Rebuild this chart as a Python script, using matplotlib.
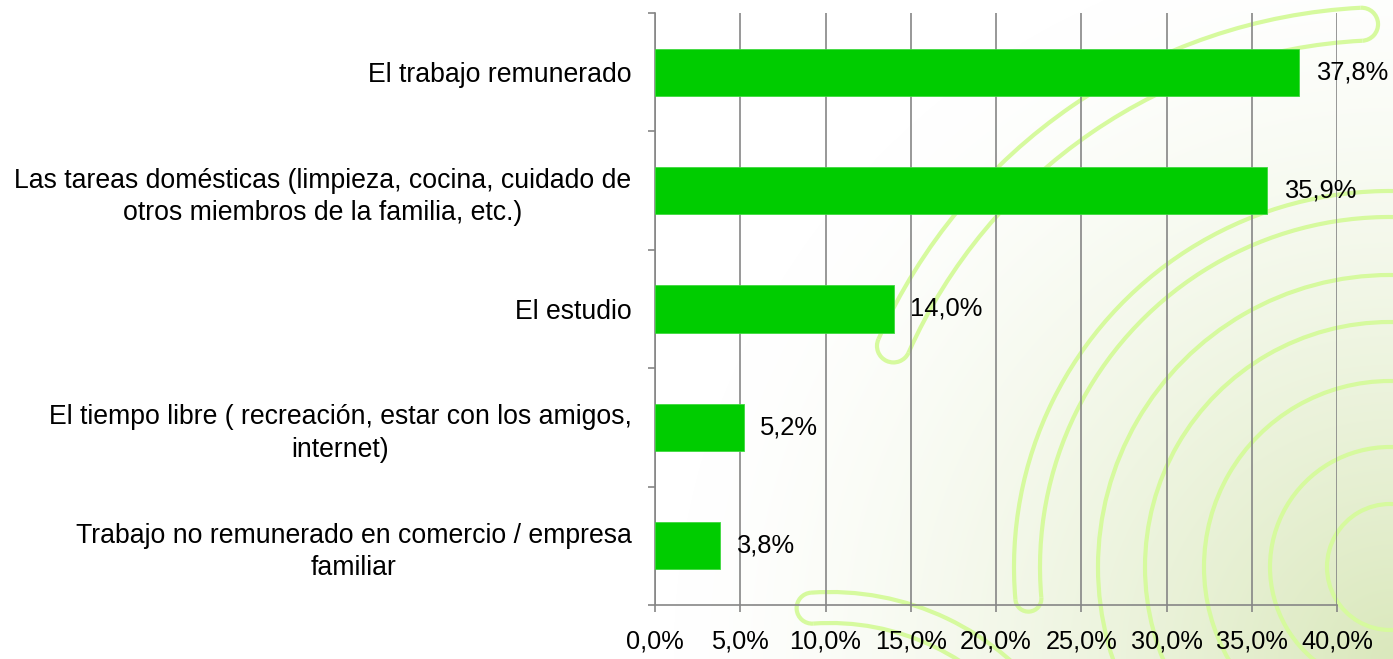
import numpy as np
import matplotlib
matplotlib.use('Agg')
import matplotlib.pyplot as plt
from matplotlib.patches import Arc

categories = ['El trabajo remunerado',
              'Las tareas domésticas (limpieza, cocina, cuidado de\notros miembros de la familia, etc.)',
              'El estudio',
              'El tiempo libre ( recreación, estar con los amigos,\ninternet)',
              'Trabajo no remunerado en comercio / empresa\nfamiliar']
values = [37.8, 35.9, 14.0, 5.2, 3.8]
x_ticks = [0, 5, 10, 15, 20, 25, 30, 35, 40]

W, H = 1393, 659
plt.rcParams['font.family'] = ['Liberation Sans', 'DejaVu Sans']
fig = plt.figure(figsize=(W / 100, H / 100), dpi=100)

# background: soft green gradient and decorative arcs (pixel coords, y up)
bg = fig.add_axes([0, 0, 1, 1], zorder=-5)
bg.set_xlim(0, W)
bg.set_ylim(0, H)
bg.axis('off')
yy, xx = np.mgrid[0:H, 0:W]
d = np.sqrt((xx - W) ** 2 + (yy - H) ** 2) / 720.0
t = np.clip(1 - d, 0, 1) ** 1.4
c0 = np.array([1.0, 1.0, 1.0])
c1 = np.array([218, 232, 188]) / 255.0
img = c0 + (c1 - c0) * t[..., None]
bg.imshow(img, extent=[0, W, 0, H], origin='upper', aspect='auto')

arc_col = '#d6fa9e'
cx, cy = 1390, H - 567
for r in [63, 120, 186, 245, 292]:
    bg.add_patch(Arc((cx, cy), 2 * r, 2 * r, theta1=60, theta2=300, color=arc_col, lw=3))


def hairpin(c, r_in, r_out, th1, th2, cap_lo=False, cap_hi=True):
    bg.add_patch(Arc(c, 2 * r_out, 2 * r_out, theta1=th1, theta2=th2, color=arc_col, lw=3))
    bg.add_patch(Arc(c, 2 * r_in, 2 * r_in, theta1=th1, theta2=th2, color=arc_col, lw=3))
    rm, rc = (r_in + r_out) / 2, (r_out - r_in) / 2
    if cap_hi:
        a = np.radians(th2)
        cc = (c[0] + rm * np.cos(a), c[1] + rm * np.sin(a))
        bg.add_patch(Arc(cc, 2 * rc, 2 * rc, theta1=th2, theta2=th2 + 180, color=arc_col, lw=3))
    if cap_lo:
        a = np.radians(th1)
        cc = (c[0] + rm * np.cos(a), c[1] + rm * np.sin(a))
        bg.add_patch(Arc(cc, 2 * rc, 2 * rc, theta1=th1 + 180, theta2=th1 + 360, color=arc_col, lw=3))


hairpin((cx, cy), 350, 376, 60, 185)
hairpin((cx, cy), 527, 560, 93, 156, cap_lo=True)
hairpin((830, H - 864), 241, 272, 35, 94)

# chart
ax = fig.add_axes([655 / W, (H - 605) / H, (1337 - 655) / W, (605 - 13) / H])
ax.patch.set_alpha(0)
pos = np.arange(len(values))
bars = ax.barh(pos, values, height=0.4, color='#00cc00', edgecolor='#3fd83f', linewidth=0.6, zorder=3)
for p, v in zip(pos, values):
    ax.annotate('{:.1f}%'.format(v).replace('.', ','), (v, p), xytext=(12, 0),
                textcoords='offset points', va='center', ha='left', fontsize=18.4, color='black')

ax.set_xlim(0, 40)
ax.set_ylim(len(values) - 0.5, -0.5)
ax.set_xticks(x_ticks)
ax.set_xticklabels(['{:.1f}%'.format(v).replace('.', ',') for v in x_ticks], fontsize=18.3)
ax.set_yticks(np.arange(-0.5, len(values)), labels=[])
ax.set_yticks(pos, minor=True)
ax.set_yticklabels(categories, minor=True, fontsize=19.2)
for lbl in ax.get_yticklabels(minor=True):
    lbl.set_multialignment('center')
    lbl.set_linespacing(1.32)
ax.tick_params(axis='y', which='minor', length=0, pad=17)
ax.tick_params(axis='y', which='major', length=5, color='#868686', width=1.2)
ax.tick_params(axis='x', length=5, color='#868686', width=1.2, pad=13)
ax.grid(axis='x', color='#868686', linewidth=1.2, zorder=1)
for s in ['top', 'right']:
    ax.spines[s].set_visible(False)
for s in ['left', 'bottom']:
    ax.spines[s].set_color('#868686')
    ax.spines[s].set_linewidth(1.2)

fig.savefig('out.png', dpi=100)
